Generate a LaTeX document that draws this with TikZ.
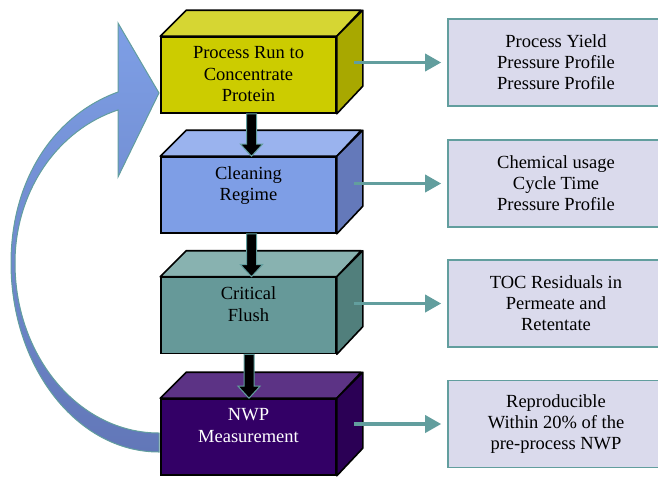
\documentclass[tikz,border=0pt]{standalone}
\usepackage{fontspec}
\setmainfont{Liberation Serif}
\usetikzlibrary{arrows.meta,positioning,calc}
\definecolor{tealline}{RGB}{98,158,158}
\definecolor{resultfill}{RGB}{218,218,236}
\definecolor{curvetop}{RGB}{126,159,230}
\definecolor{curvebottom}{RGB}{98,119,184}
% cuboid faces: node, top colour, side colour
\newcommand{\cuboid}[3]{%
    \draw [style=face edge, fill=#2] (#1.north west) -- ++(26,-26) -- ++(175,0) -- (#1.north east) -- cycle;
    \draw [style=face edge, fill=#3] (#1.north east) -- ++(26,-26) -- ++(0,76) -- (#1.south east) -- cycle;
}
% black block arrow between two cuboids
\newcommand{\flowarrow}[3]{%
    \draw [style=block arrow] ($(#1.south)+(#3-5,0)$) -- ($(#2.north)+(#3-5,-12)$) -- ++(-6,0)
        -- ($(#2.north)+(#3,0)$) -- ($(#2.north)+(#3+11,-12)$) -- ++(-6,0) -- ($(#1.south)+(#3+5,0)$) -- cycle;
}

\begin{document}
\begin{tikzpicture}[x=1pt, y=-1pt]
    \pgfdeclarelayer{edgelayer}
    \pgfsetlayers{edgelayer,main}
    \tikzstyle{face}=[draw, line width=1.6pt, minimum width=175pt, minimum height=76pt, inner sep=0pt]
    \tikzstyle{face edge}=[draw, line width=1.6pt, line join=round]
    \tikzstyle{face text}=[inner sep=0pt, align=center, font=\fontsize{18.5}{21.5}\selectfont]
    \tikzstyle{result}=[draw=tealline, line width=1.6pt, fill=resultfill, minimum width=216pt, minimum height=87pt,
        align=center, font=\fontsize{18.5}{21}\selectfont]
    \tikzstyle{arrow}=[draw=tealline, line width=3.5pt, -{Triangle[length=16pt, width=17pt]}, shorten >=6pt]
    \tikzstyle{block arrow}=[fill=black, draw=tealline, line width=1pt, line join=miter]
    \useasboundingbox (0,0) rectangle (658,477);

    % process boxes
    \node [style=face, fill={rgb,255:red,204;green,204;blue,0}] (1) at (248.5,75) {};
    \node [style=face, fill={rgb,255:red,126;green,158;blue,230}] (2) at (248.5,195) {};
    \node [style=face, fill={rgb,255:red,102;green,153;blue,153}] (3) at (248.5,315.5) {};
    \node [style=face, fill={rgb,255:red,51;green,0;blue,102}] (4) at (248.5,437) {};
    \cuboid{1}{{rgb,255:red,214;green,214;blue,51}}{{rgb,255:red,168;green,168;blue,0}}
    \cuboid{2}{{rgb,255:red,154;green,179;blue,238}}{{rgb,255:red,100;green,121;blue,186}}
    \cuboid{3}{{rgb,255:red,136;green,178;blue,176}}{{rgb,255:red,81;green,127;blue,124}}
    \cuboid{4}{{rgb,255:red,92;green,51;blue,133}}{{rgb,255:red,43;green,0;blue,85}}
    \node [style=face text, below=10pt of 1.north] (1t) {Process Run to\\Concentrate\\Protein};
    \node [style=face text, below=10pt of 2.north] (2t) {Cleaning\\Regime};
    \node [style=face text, below=10pt of 3.north] (3t) {Critical\\Flush};
    \node [style=face text, below=10pt of 4.north, text=white] (4t) {NWP\\Measurement};

    % results
    \node [style=result] (5) at (556,62.5) {Process Yield\\Pressure Profile\\Pressure Profile};
    \node [style=result] (6) at (556,183.5) {Chemical usage\\Cycle Time\\Pressure Profile};
    \node [style=result] (7) at (556,303.5) {TOC Residuals in\\Permeate and\\Retentate};
    \node [style=result] (8) at (556,424) {Reproducible\\Within 20\% of the\\pre-process NWP};

    \draw [style=arrow] ($(5.west)+(-93,0)$) -- (5.west);
    \draw [style=arrow] ($(6.west)+(-93,0)$) -- (6.west);
    \draw [style=arrow] ($(7.west)+(-93,0)$) -- (7.west);
    \draw [style=arrow] ($(8.west)+(-93,0)$) -- (8.west);

    \flowarrow{1}{2}{3}
    \flowarrow{2}{3}{3}
    \flowarrow{3}{4}{0.5}

    % return arrow
    \begin{pgfonlayer}{edgelayer}
        \draw [draw=tealline, line width=1pt, line join=miter, top color=curvetop, bottom color=curvebottom]
            (159,452) .. controls (77,452) and (11,367) .. (11,263)
            .. controls (11,179) and (54.5,115) .. (118,92)
            -- (118,23) -- (159,93) -- (118,177) -- (118,110)
            .. controls (57,130) and (15,192) .. (15,263)
            .. controls (15,357) and (79.5,433) .. (159,433) -- cycle;
    \end{pgfonlayer}
\end{tikzpicture}
\end{document}
